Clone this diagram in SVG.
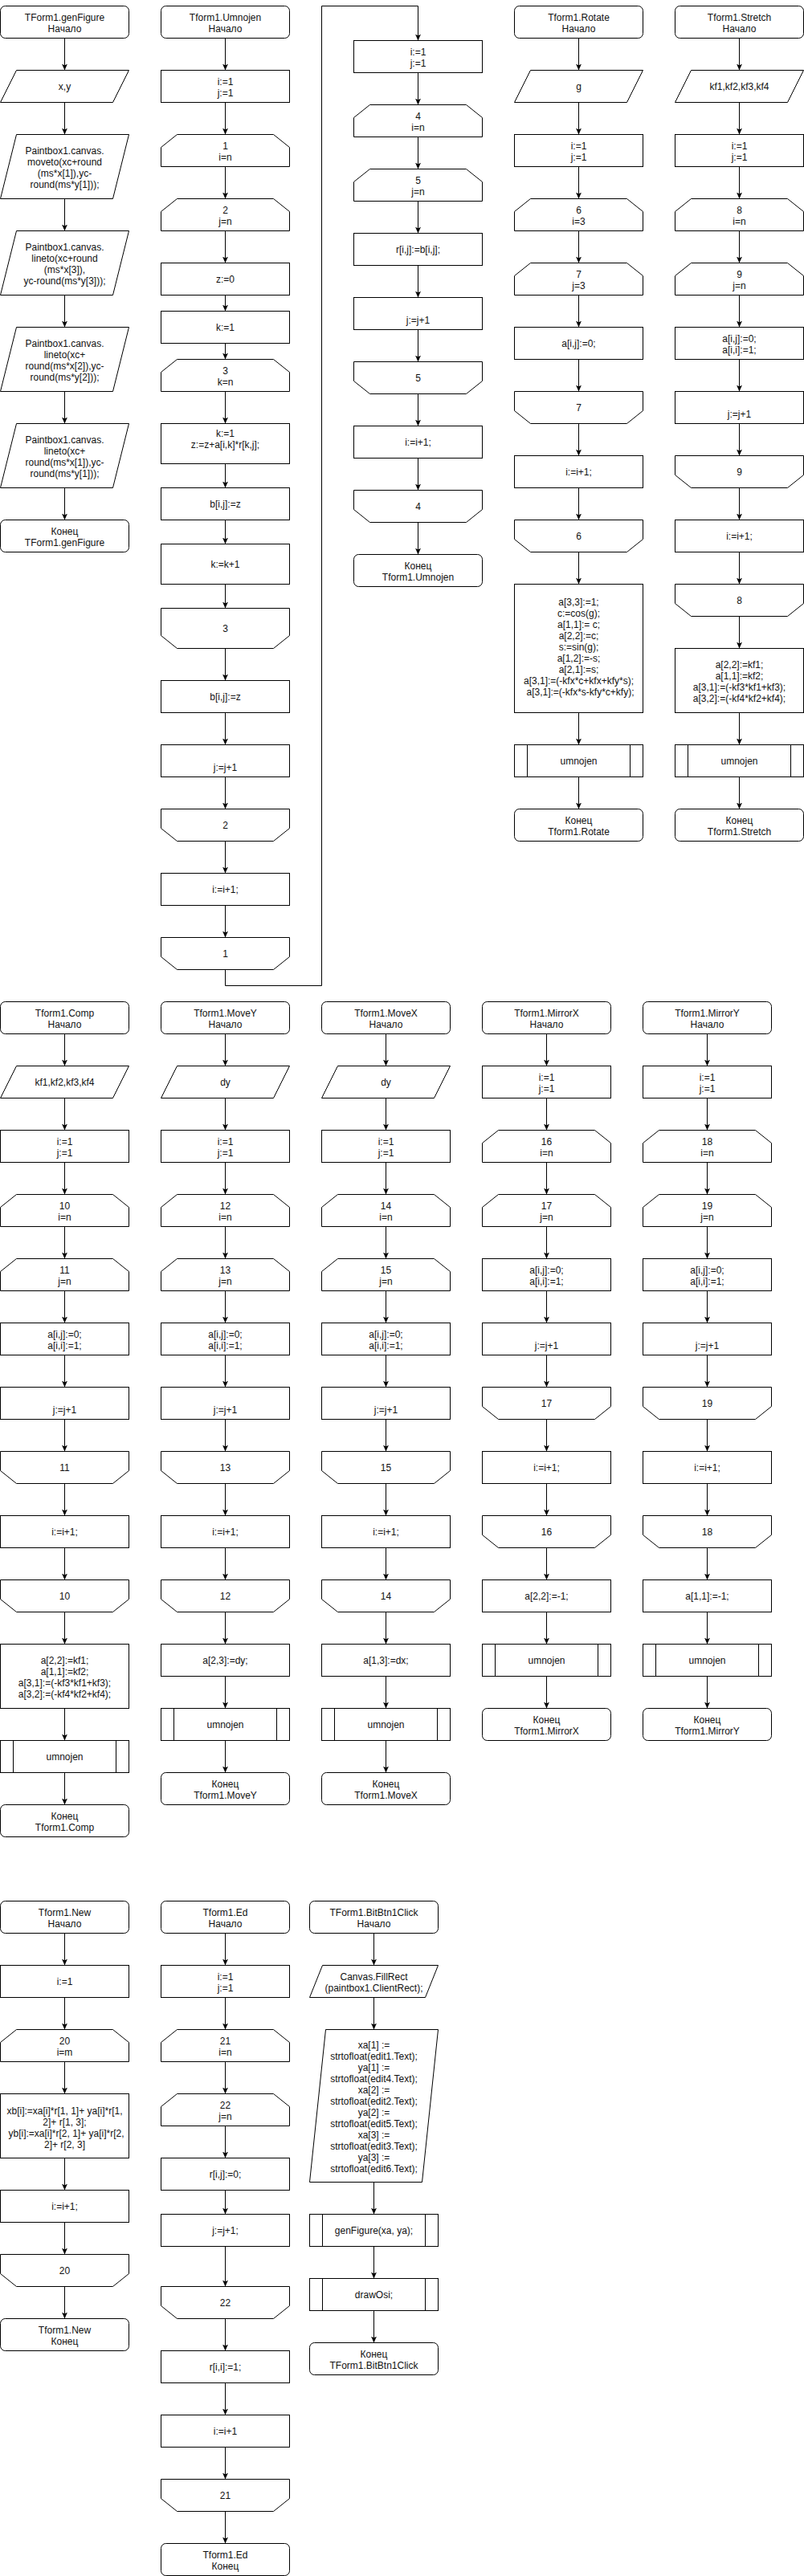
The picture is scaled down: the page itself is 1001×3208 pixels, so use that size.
<svg xmlns="http://www.w3.org/2000/svg" xmlns:xlink="http://www.w3.org/1999/xlink" width="1001" height="3208" viewBox="0 0 1001 3208">
<style>
.t{font-family:"Liberation Sans",Arial,Helvetica,sans-serif;font-size:12px;fill:#111;stroke:none;text-anchor:middle}
</style>
<defs>
<marker id="a" viewBox="0 0 8 8" refX="8" refY="4" markerWidth="8" markerHeight="8" markerUnits="userSpaceOnUse" orient="auto"><path d="M0,0.5L8,4L0,7.5L2,4Z" fill="#000" stroke="none"/></marker>
<rect id="T" width="160" height="40" rx="6"/>
<rect id="R" width="160" height="40"/>
<rect id="R50" width="160" height="50"/>
<rect id="R80" width="160" height="80"/>
<rect id="R160" width="160" height="160"/>
<path id="P" d="M20,0H160L140,40H0Z"/>
<path id="P80" d="M20,0H160L140,80H0Z"/>
<path id="LS" d="M20,0H140L160,16V40H0V16Z"/>
<path id="LE" d="M0,0H160V24L140,40H20L0,24Z"/>
<path id="LE50" d="M0,0H160V34L140,50H20L0,34Z"/>
<g id="S"><rect width="160" height="40"/><path d="M16,0V40M144,0V40"/></g>
</defs>
<rect width="1001" height="3208" fill="#fff"/>
<g transform="translate(0.5,0.5)">
<g id="connectors" fill="none" stroke="#000" stroke-width="1" marker-end="url(#a)">
<path d="M80,47V87"/><path d="M80,127V167"/><path d="M80,247V287"/><path d="M80,367V407"/><path d="M80,487V527"/><path d="M80,607V647"/>
<path d="M280,47V87"/><path d="M280,127V167"/><path d="M280,207V247"/><path d="M280,287V327"/><path d="M280,367V387"/><path d="M280,427V447"/><path d="M280,487V527"/><path d="M280,577V607"/><path d="M280,647V677"/><path d="M280,727V757"/><path d="M280,807V847"/><path d="M280,887V927"/><path d="M280,967V1007"/><path d="M280,1047V1087"/><path d="M280,1127V1167"/>
<path d="M280,1207V1227H400V7H520V50"/>
<path d="M520,90V130"/><path d="M520,170V210"/><path d="M520,250V290"/><path d="M520,330V370"/><path d="M520,410V450"/><path d="M520,490V530"/><path d="M520,570V610"/><path d="M520,650V690"/>
<path d="M720,47V87"/><path d="M720,127V167"/><path d="M720,207V247"/><path d="M720,287V327"/><path d="M720,367V407"/><path d="M720,447V487"/><path d="M720,527V567"/><path d="M720,607V647"/><path d="M720,687V727"/><path d="M720,887V927"/><path d="M720,967V1007"/>
<path d="M920,47V87"/><path d="M920,127V167"/><path d="M920,207V247"/><path d="M920,287V327"/><path d="M920,367V407"/><path d="M920,447V487"/><path d="M920,527V567"/><path d="M920,607V647"/><path d="M920,687V727"/><path d="M920,767V807"/><path d="M920,887V927"/><path d="M920,967V1007"/>
<path d="M80,1287V1327"/><path d="M80,1367V1407"/><path d="M80,1447V1487"/><path d="M80,1527V1567"/><path d="M80,1607V1647"/><path d="M80,1687V1727"/><path d="M80,1767V1807"/><path d="M80,1847V1887"/><path d="M80,1927V1967"/><path d="M80,2007V2047"/><path d="M80,2127V2167"/><path d="M80,2207V2247"/>
<path d="M280,1287V1327"/><path d="M280,1367V1407"/><path d="M280,1447V1487"/><path d="M280,1527V1567"/><path d="M280,1607V1647"/><path d="M280,1687V1727"/><path d="M280,1767V1807"/><path d="M280,1847V1887"/><path d="M280,1927V1967"/><path d="M280,2007V2047"/><path d="M280,2087V2127"/><path d="M280,2167V2207"/>
<path d="M480,1287V1327"/><path d="M480,1367V1407"/><path d="M480,1447V1487"/><path d="M480,1527V1567"/><path d="M480,1607V1647"/><path d="M480,1687V1727"/><path d="M480,1767V1807"/><path d="M480,1847V1887"/><path d="M480,1927V1967"/><path d="M480,2007V2047"/><path d="M480,2087V2127"/><path d="M480,2167V2207"/>
<path d="M680,1287V1327"/><path d="M680,1367V1407"/><path d="M680,1447V1487"/><path d="M680,1527V1567"/><path d="M680,1607V1647"/><path d="M680,1687V1727"/><path d="M680,1767V1807"/><path d="M680,1847V1887"/><path d="M680,1927V1967"/><path d="M680,2007V2047"/><path d="M680,2087V2127"/>
<path d="M880,1287V1327"/><path d="M880,1367V1407"/><path d="M880,1447V1487"/><path d="M880,1527V1567"/><path d="M880,1607V1647"/><path d="M880,1687V1727"/><path d="M880,1767V1807"/><path d="M880,1847V1887"/><path d="M880,1927V1967"/><path d="M880,2007V2047"/><path d="M880,2087V2127"/>
<path d="M80,2407V2447"/><path d="M80,2487V2527"/><path d="M80,2567V2607"/><path d="M80,2687V2727"/><path d="M80,2767V2807"/><path d="M80,2847V2887"/>
<path d="M280,2407V2447"/><path d="M280,2487V2527"/><path d="M280,2567V2607"/><path d="M280,2647V2687"/><path d="M280,2727V2757"/><path d="M280,2797V2847"/><path d="M280,2887V2927"/><path d="M280,2967V3007"/><path d="M280,3047V3087"/><path d="M280,3127V3167"/>
<path d="M465,2407V2447"/><path d="M465,2487V2527"/><path d="M465,2717V2757"/><path d="M465,2797V2837"/><path d="M465,2877V2917"/>
</g>
<g id="nodes" fill="#fff" stroke="#000" stroke-width="1">
<g id="gf1"><use href="#T" x="0" y="7"/><text class="t" x="80" y="25">TForm1.genFigure<tspan x="80" y="39">Начало</tspan></text></g>
<g id="gf2"><use href="#P" x="0" y="87"/><text class="t" x="80" y="111">x,y</text></g>
<g id="gf3"><use href="#P80" x="0" y="167"/><text class="t" x="80" y="191">Paintbox1.canvas.<tspan x="80" y="205">moveto(xc+round</tspan><tspan x="80" y="219">(ms*x[1]),yc-</tspan><tspan x="80" y="233">round(ms*y[1]));</tspan></text></g>
<g id="gf4"><use href="#P80" x="0" y="287"/><text class="t" x="80" y="311">Paintbox1.canvas.<tspan x="80" y="325">lineto(xc+round</tspan><tspan x="80" y="339">(ms*x[3]),</tspan><tspan x="80" y="353">yc-round(ms*y[3]));</tspan></text></g>
<g id="gf5"><use href="#P80" x="0" y="407"/><text class="t" x="80" y="431">Paintbox1.canvas.<tspan x="80" y="445">lineto(xc+</tspan><tspan x="80" y="459">round(ms*x[2]),yc-</tspan><tspan x="80" y="473">round(ms*y[2]));</tspan></text></g>
<g id="gf6"><use href="#P80" x="0" y="527"/><text class="t" x="80" y="551">Paintbox1.canvas.<tspan x="80" y="565">lineto(xc+</tspan><tspan x="80" y="579">round(ms*x[1]),yc-</tspan><tspan x="80" y="593">round(ms*y[1]));</tspan></text></g>
<g id="gf7"><use href="#T" x="0" y="647"/><text class="t" x="80" y="665">Конец<tspan x="80" y="679">TForm1.genFigure</tspan></text></g>
<g id="um1"><use href="#T" x="200" y="7"/><text class="t" x="280" y="25">Tform1.Umnojen<tspan x="280" y="39">Начало</tspan></text></g>
<g id="um2"><use href="#R" x="200" y="87"/><text class="t" x="280" y="105">i:=1<tspan x="280" y="119">j:=1</tspan></text></g>
<g id="um3"><use href="#LS" x="200" y="167"/><text class="t" x="280" y="185">1<tspan x="280" y="199">i=n</tspan></text></g>
<g id="um4"><use href="#LS" x="200" y="247"/><text class="t" x="280" y="265">2<tspan x="280" y="279">j=n</tspan></text></g>
<g id="um5"><use href="#R" x="200" y="327"/><text class="t" x="280" y="351">z:=0</text></g>
<g id="um6"><use href="#R" x="200" y="387"/><text class="t" x="280" y="411">k:=1</text></g>
<g id="um7"><use href="#LS" x="200" y="447"/><text class="t" x="280" y="465">3<tspan x="280" y="479">k=n</tspan></text></g>
<g id="um8"><use href="#R50" x="200" y="527"/><text class="t" x="280" y="543">k:=1<tspan x="280" y="557">z:=z+a[i,k]*r[k,j];</tspan></text></g>
<g id="um9"><use href="#R" x="200" y="607"/><text class="t" x="280" y="631">b[i,j]:=z</text></g>
<g id="um10"><use href="#R50" x="200" y="677"/><text class="t" x="280" y="706">k:=k+1</text></g>
<g id="um11"><use href="#LE50" x="200" y="757"/><text class="t" x="280" y="786">3</text></g>
<g id="um12"><use href="#R" x="200" y="847"/><text class="t" x="280" y="871">b[i,j]:=z</text></g>
<g id="um13"><use href="#R" x="200" y="927"/><text class="t" x="280" y="959">j:=j+1</text></g>
<g id="um14"><use href="#LE" x="200" y="1007"/><text class="t" x="280" y="1031">2</text></g>
<g id="um15"><use href="#R" x="200" y="1087"/><text class="t" x="280" y="1111">i:=i+1;</text></g>
<g id="um16"><use href="#LE" x="200" y="1167"/><text class="t" x="280" y="1191">1</text></g>
<g id="um17"><use href="#R" x="440" y="50"/><text class="t" x="520" y="68">i:=1<tspan x="520" y="82">j:=1</tspan></text></g>
<g id="um18"><use href="#LS" x="440" y="130"/><text class="t" x="520" y="148">4<tspan x="520" y="162">i=n</tspan></text></g>
<g id="um19"><use href="#LS" x="440" y="210"/><text class="t" x="520" y="228">5<tspan x="520" y="242">j=n</tspan></text></g>
<g id="um20"><use href="#R" x="440" y="290"/><text class="t" x="520" y="314">r[i,j]:=b[i,j];</text></g>
<g id="um21"><use href="#R" x="440" y="370"/><text class="t" x="520" y="402">j:=j+1</text></g>
<g id="um22"><use href="#LE" x="440" y="450"/><text class="t" x="520" y="474">5</text></g>
<g id="um23"><use href="#R" x="440" y="530"/><text class="t" x="520" y="554">i:=i+1;</text></g>
<g id="um24"><use href="#LE" x="440" y="610"/><text class="t" x="520" y="634">4</text></g>
<g id="um25"><use href="#T" x="440" y="690"/><text class="t" x="520" y="708">Конец<tspan x="520" y="722">Tform1.Umnojen</tspan></text></g>
<g id="ro1"><use href="#T" x="640" y="7"/><text class="t" x="720" y="25">Tform1.Rotate<tspan x="720" y="39">Начало</tspan></text></g>
<g id="ro2"><use href="#P" x="640" y="87"/><text class="t" x="720" y="111">g</text></g>
<g id="ro3"><use href="#R" x="640" y="167"/><text class="t" x="720" y="185">i:=1<tspan x="720" y="199">j:=1</tspan></text></g>
<g id="ro4"><use href="#LS" x="640" y="247"/><text class="t" x="720" y="265">6<tspan x="720" y="279">i=3</tspan></text></g>
<g id="ro5"><use href="#LS" x="640" y="327"/><text class="t" x="720" y="345">7<tspan x="720" y="359">j=3</tspan></text></g>
<g id="ro6"><use href="#R" x="640" y="407"/><text class="t" x="720" y="431">a[i,j]:=0;</text></g>
<g id="ro7"><use href="#LE" x="640" y="487"/><text class="t" x="720" y="511">7</text></g>
<g id="ro8"><use href="#R" x="640" y="567"/><text class="t" x="720" y="591">i:=i+1;</text></g>
<g id="ro9"><use href="#LE" x="640" y="647"/><text class="t" x="720" y="671">6</text></g>
<g id="ro10"><use href="#R160" x="640" y="727"/><text class="t" x="720" y="753">a[3,3]:=1;<tspan x="720" y="767">c:=cos(g);</tspan><tspan x="720" y="781">a[1,1]:= c;</tspan><tspan x="720" y="795">a[2,2]:=c;</tspan><tspan x="720" y="809">s:=sin(g);</tspan><tspan x="720" y="823">a[1,2]:=-s;</tspan><tspan x="720" y="837">a[2,1]:=s;</tspan><tspan x="720" y="851">a[3,1]:=(-kfx*c+kfx+kfy*s);</tspan><tspan x="722" y="865">a[3,1]:=(-kfx*s-kfy*c+kfy);</tspan></text></g>
<g id="ro11"><use href="#S" x="640" y="927"/><text class="t" x="720" y="951">umnojen</text></g>
<g id="ro12"><use href="#T" x="640" y="1007"/><text class="t" x="720" y="1025">Конец<tspan x="720" y="1039">Tform1.Rotate</tspan></text></g>
<g id="st1"><use href="#T" x="840" y="7"/><text class="t" x="920" y="25">Tform1.Stretch<tspan x="920" y="39">Начало</tspan></text></g>
<g id="st2"><use href="#P" x="840" y="87"/><text class="t" x="920" y="111">kf1,kf2,kf3,kf4</text></g>
<g id="st3"><use href="#R" x="840" y="167"/><text class="t" x="920" y="185">i:=1<tspan x="920" y="199">j:=1</tspan></text></g>
<g id="st4"><use href="#LS" x="840" y="247"/><text class="t" x="920" y="265">8<tspan x="920" y="279">i=n</tspan></text></g>
<g id="st5"><use href="#LS" x="840" y="327"/><text class="t" x="920" y="345">9<tspan x="920" y="359">j=n</tspan></text></g>
<g id="st6"><use href="#R" x="840" y="407"/><text class="t" x="920" y="425">a[i,j]:=0;<tspan x="920" y="439">a[i,i]:=1;</tspan></text></g>
<g id="st7"><use href="#R" x="840" y="487"/><text class="t" x="920" y="519">j:=j+1</text></g>
<g id="st8"><use href="#LE" x="840" y="567"/><text class="t" x="920" y="591">9</text></g>
<g id="st9"><use href="#R" x="840" y="647"/><text class="t" x="920" y="671">i:=i+1;</text></g>
<g id="st10"><use href="#LE" x="840" y="727"/><text class="t" x="920" y="751">8</text></g>
<g id="st11"><use href="#R80" x="840" y="807"/><text class="t" x="920" y="831">a[2,2]:=kf1;<tspan x="920" y="845">a[1,1]:=kf2;</tspan><tspan x="920" y="859">a[3,1]:=(-kf3*kf1+kf3);</tspan><tspan x="920" y="873">a[3,2]:=(-kf4*kf2+kf4);</tspan></text></g>
<g id="st12"><use href="#S" x="840" y="927"/><text class="t" x="920" y="951">umnojen</text></g>
<g id="st13"><use href="#T" x="840" y="1007"/><text class="t" x="920" y="1025">Конец<tspan x="920" y="1039">Tform1.Stretch</tspan></text></g>
<g id="co1"><use href="#T" x="0" y="1247"/><text class="t" x="80" y="1265">Tform1.Comp<tspan x="80" y="1279">Начало</tspan></text></g>
<g id="co2"><use href="#P" x="0" y="1327"/><text class="t" x="80" y="1351">kf1,kf2,kf3,kf4</text></g>
<g id="co3"><use href="#R" x="0" y="1407"/><text class="t" x="80" y="1425">i:=1<tspan x="80" y="1439">j:=1</tspan></text></g>
<g id="co4"><use href="#LS" x="0" y="1487"/><text class="t" x="80" y="1505">10<tspan x="80" y="1519">i=n</tspan></text></g>
<g id="co5"><use href="#LS" x="0" y="1567"/><text class="t" x="80" y="1585">11<tspan x="80" y="1599">j=n</tspan></text></g>
<g id="co6"><use href="#R" x="0" y="1647"/><text class="t" x="80" y="1665">a[i,j]:=0;<tspan x="80" y="1679">a[i,i]:=1;</tspan></text></g>
<g id="co7"><use href="#R" x="0" y="1727"/><text class="t" x="80" y="1759">j:=j+1</text></g>
<g id="co8"><use href="#LE" x="0" y="1807"/><text class="t" x="80" y="1831">11</text></g>
<g id="co9"><use href="#R" x="0" y="1887"/><text class="t" x="80" y="1911">i:=i+1;</text></g>
<g id="co10"><use href="#LE" x="0" y="1967"/><text class="t" x="80" y="1991">10</text></g>
<g id="co11"><use href="#R80" x="0" y="2047"/><text class="t" x="80" y="2071">a[2,2]:=kf1;<tspan x="80" y="2085">a[1,1]:=kf2;</tspan><tspan x="80" y="2099">a[3,1]:=(-kf3*kf1+kf3);</tspan><tspan x="80" y="2113">a[3,2]:=(-kf4*kf2+kf4);</tspan></text></g>
<g id="co12"><use href="#S" x="0" y="2167"/><text class="t" x="80" y="2191">umnojen</text></g>
<g id="co13"><use href="#T" x="0" y="2247"/><text class="t" x="80" y="2265">Конец<tspan x="80" y="2279">Tform1.Comp</tspan></text></g>
<g id="my1"><use href="#T" x="200" y="1247"/><text class="t" x="280" y="1265">Tform1.MoveY<tspan x="280" y="1279">Начало</tspan></text></g>
<g id="my2"><use href="#P" x="200" y="1327"/><text class="t" x="280" y="1351">dy</text></g>
<g id="my3"><use href="#R" x="200" y="1407"/><text class="t" x="280" y="1425">i:=1<tspan x="280" y="1439">j:=1</tspan></text></g>
<g id="my4"><use href="#LS" x="200" y="1487"/><text class="t" x="280" y="1505">12<tspan x="280" y="1519">i=n</tspan></text></g>
<g id="my5"><use href="#LS" x="200" y="1567"/><text class="t" x="280" y="1585">13<tspan x="280" y="1599">j=n</tspan></text></g>
<g id="my6"><use href="#R" x="200" y="1647"/><text class="t" x="280" y="1665">a[i,j]:=0;<tspan x="280" y="1679">a[i,i]:=1;</tspan></text></g>
<g id="my7"><use href="#R" x="200" y="1727"/><text class="t" x="280" y="1759">j:=j+1</text></g>
<g id="my8"><use href="#LE" x="200" y="1807"/><text class="t" x="280" y="1831">13</text></g>
<g id="my9"><use href="#R" x="200" y="1887"/><text class="t" x="280" y="1911">i:=i+1;</text></g>
<g id="my10"><use href="#LE" x="200" y="1967"/><text class="t" x="280" y="1991">12</text></g>
<g id="my11"><use href="#R" x="200" y="2047"/><text class="t" x="280" y="2071">a[2,3]:=dy;</text></g>
<g id="my12"><use href="#S" x="200" y="2127"/><text class="t" x="280" y="2151">umnojen</text></g>
<g id="my13"><use href="#T" x="200" y="2207"/><text class="t" x="280" y="2225">Конец<tspan x="280" y="2239">Tform1.MoveY</tspan></text></g>
<g id="mx1"><use href="#T" x="400" y="1247"/><text class="t" x="480" y="1265">Tform1.MoveX<tspan x="480" y="1279">Начало</tspan></text></g>
<g id="mx2"><use href="#P" x="400" y="1327"/><text class="t" x="480" y="1351">dy</text></g>
<g id="mx3"><use href="#R" x="400" y="1407"/><text class="t" x="480" y="1425">i:=1<tspan x="480" y="1439">j:=1</tspan></text></g>
<g id="mx4"><use href="#LS" x="400" y="1487"/><text class="t" x="480" y="1505">14<tspan x="480" y="1519">i=n</tspan></text></g>
<g id="mx5"><use href="#LS" x="400" y="1567"/><text class="t" x="480" y="1585">15<tspan x="480" y="1599">j=n</tspan></text></g>
<g id="mx6"><use href="#R" x="400" y="1647"/><text class="t" x="480" y="1665">a[i,j]:=0;<tspan x="480" y="1679">a[i,i]:=1;</tspan></text></g>
<g id="mx7"><use href="#R" x="400" y="1727"/><text class="t" x="480" y="1759">j:=j+1</text></g>
<g id="mx8"><use href="#LE" x="400" y="1807"/><text class="t" x="480" y="1831">15</text></g>
<g id="mx9"><use href="#R" x="400" y="1887"/><text class="t" x="480" y="1911">i:=i+1;</text></g>
<g id="mx10"><use href="#LE" x="400" y="1967"/><text class="t" x="480" y="1991">14</text></g>
<g id="mx11"><use href="#R" x="400" y="2047"/><text class="t" x="480" y="2071">a[1,3]:=dx;</text></g>
<g id="mx12"><use href="#S" x="400" y="2127"/><text class="t" x="480" y="2151">umnojen</text></g>
<g id="mx13"><use href="#T" x="400" y="2207"/><text class="t" x="480" y="2225">Конец<tspan x="480" y="2239">Tform1.MoveX</tspan></text></g>
<g id="mrx1"><use href="#T" x="600" y="1247"/><text class="t" x="680" y="1265">Tform1.MirrorX<tspan x="680" y="1279">Начало</tspan></text></g>
<g id="mrx2"><use href="#R" x="600" y="1327"/><text class="t" x="680" y="1345">i:=1<tspan x="680" y="1359">j:=1</tspan></text></g>
<g id="mrx3"><use href="#LS" x="600" y="1407"/><text class="t" x="680" y="1425">16<tspan x="680" y="1439">i=n</tspan></text></g>
<g id="mrx4"><use href="#LS" x="600" y="1487"/><text class="t" x="680" y="1505">17<tspan x="680" y="1519">j=n</tspan></text></g>
<g id="mrx5"><use href="#R" x="600" y="1567"/><text class="t" x="680" y="1585">a[i,j]:=0;<tspan x="680" y="1599">a[i,i]:=1;</tspan></text></g>
<g id="mrx6"><use href="#R" x="600" y="1647"/><text class="t" x="680" y="1679">j:=j+1</text></g>
<g id="mrx7"><use href="#LE" x="600" y="1727"/><text class="t" x="680" y="1751">17</text></g>
<g id="mrx8"><use href="#R" x="600" y="1807"/><text class="t" x="680" y="1831">i:=i+1;</text></g>
<g id="mrx9"><use href="#LE" x="600" y="1887"/><text class="t" x="680" y="1911">16</text></g>
<g id="mrx10"><use href="#R" x="600" y="1967"/><text class="t" x="680" y="1991">a[2,2]:=-1;</text></g>
<g id="mrx11"><use href="#S" x="600" y="2047"/><text class="t" x="680" y="2071">umnojen</text></g>
<g id="mrx12"><use href="#T" x="600" y="2127"/><text class="t" x="680" y="2145">Конец<tspan x="680" y="2159">Tform1.MirrorX</tspan></text></g>
<g id="mry1"><use href="#T" x="800" y="1247"/><text class="t" x="880" y="1265">Tform1.MirrorY<tspan x="880" y="1279">Начало</tspan></text></g>
<g id="mry2"><use href="#R" x="800" y="1327"/><text class="t" x="880" y="1345">i:=1<tspan x="880" y="1359">j:=1</tspan></text></g>
<g id="mry3"><use href="#LS" x="800" y="1407"/><text class="t" x="880" y="1425">18<tspan x="880" y="1439">i=n</tspan></text></g>
<g id="mry4"><use href="#LS" x="800" y="1487"/><text class="t" x="880" y="1505">19<tspan x="880" y="1519">j=n</tspan></text></g>
<g id="mry5"><use href="#R" x="800" y="1567"/><text class="t" x="880" y="1585">a[i,j]:=0;<tspan x="880" y="1599">a[i,i]:=1;</tspan></text></g>
<g id="mry6"><use href="#R" x="800" y="1647"/><text class="t" x="880" y="1679">j:=j+1</text></g>
<g id="mry7"><use href="#LE" x="800" y="1727"/><text class="t" x="880" y="1751">19</text></g>
<g id="mry8"><use href="#R" x="800" y="1807"/><text class="t" x="880" y="1831">i:=i+1;</text></g>
<g id="mry9"><use href="#LE" x="800" y="1887"/><text class="t" x="880" y="1911">18</text></g>
<g id="mry10"><use href="#R" x="800" y="1967"/><text class="t" x="880" y="1991">a[1,1]:=-1;</text></g>
<g id="mry11"><use href="#S" x="800" y="2047"/><text class="t" x="880" y="2071">umnojen</text></g>
<g id="mry12"><use href="#T" x="800" y="2127"/><text class="t" x="880" y="2145">Конец<tspan x="880" y="2159">Tform1.MirrorY</tspan></text></g>
<g id="nw1"><use href="#T" x="0" y="2367"/><text class="t" x="80" y="2385">Tform1.New<tspan x="80" y="2399">Начало</tspan></text></g>
<g id="nw2"><use href="#R" x="0" y="2447"/><text class="t" x="80" y="2471">i:=1</text></g>
<g id="nw3"><use href="#LS" x="0" y="2527"/><text class="t" x="80" y="2545">20<tspan x="80" y="2559">i=m</tspan></text></g>
<g id="nw4"><use href="#R80" x="0" y="2607"/><text class="t" x="80" y="2632">xb[i]:=xa[i]*r[1, 1]+ ya[i]*r[1,<tspan x="80" y="2646">2]+ r[1, 3];</tspan><tspan x="82" y="2660">yb[i]:=xa[i]*r[2, 1]+ ya[i]*r[2,</tspan><tspan x="80" y="2674">2]+ r[2, 3]</tspan></text></g>
<g id="nw5"><use href="#R" x="0" y="2727"/><text class="t" x="80" y="2751">i:=i+1;</text></g>
<g id="nw6"><use href="#LE" x="0" y="2807"/><text class="t" x="80" y="2831">20</text></g>
<g id="nw7"><use href="#T" x="0" y="2887"/><text class="t" x="80" y="2905">Tform1.New<tspan x="80" y="2919">Конец</tspan></text></g>
<g id="ed1"><use href="#T" x="200" y="2367"/><text class="t" x="280" y="2385">Tform1.Ed<tspan x="280" y="2399">Начало</tspan></text></g>
<g id="ed2"><use href="#R" x="200" y="2447"/><text class="t" x="280" y="2465">i:=1<tspan x="280" y="2479">j:=1</tspan></text></g>
<g id="ed3"><use href="#LS" x="200" y="2527"/><text class="t" x="280" y="2545">21<tspan x="280" y="2559">i=n</tspan></text></g>
<g id="ed4"><use href="#LS" x="200" y="2607"/><text class="t" x="280" y="2625">22<tspan x="280" y="2639">j=n</tspan></text></g>
<g id="ed5"><use href="#R" x="200" y="2687"/><text class="t" x="280" y="2711">r[i,j]:=0;</text></g>
<g id="ed6"><use href="#R" x="200" y="2757"/><text class="t" x="280" y="2781">j:=j+1;</text></g>
<g id="ed7"><use href="#LE" x="200" y="2847"/><text class="t" x="280" y="2871">22</text></g>
<g id="ed8"><use href="#R" x="200" y="2927"/><text class="t" x="280" y="2951">r[i,i]:=1;</text></g>
<g id="ed9"><use href="#R" x="200" y="3007"/><text class="t" x="280" y="3031">i:=i+1</text></g>
<g id="ed10"><use href="#LE" x="200" y="3087"/><text class="t" x="280" y="3111">21</text></g>
<g id="ed11"><use href="#T" x="200" y="3167"/><text class="t" x="280" y="3185">Tform1.Ed<tspan x="280" y="3199">Конец</tspan></text></g>
<g id="bb1"><use href="#T" x="385" y="2367"/><text class="t" x="465" y="2385">TForm1.BitBtn1Click<tspan x="465" y="2399">Начало</tspan></text></g>
<g id="bb2"><path d="M401,2447H545L529,2487H385Z"/><text class="t" x="465" y="2465">Canvas.FillRect<tspan x="465" y="2479">(paintbox1.ClientRect);</tspan></text></g>
<g id="bb3"><path d="M405,2527H545L525,2717H385Z"/><text class="t" x="465" y="2550">xa[1] :=<tspan x="465" y="2564">strtofloat(edit1.Text);</tspan><tspan x="465" y="2578">ya[1] :=</tspan><tspan x="465" y="2592">strtofloat(edit4.Text);</tspan><tspan x="465" y="2606">xa[2] :=</tspan><tspan x="465" y="2620">strtofloat(edit2.Text);</tspan><tspan x="465" y="2634">ya[2] :=</tspan><tspan x="465" y="2648">strtofloat(edit5.Text);</tspan><tspan x="465" y="2662">xa[3] :=</tspan><tspan x="465" y="2676">strtofloat(edit3.Text);</tspan><tspan x="465" y="2690">ya[3] :=</tspan><tspan x="465" y="2704">strtofloat(edit6.Text);</tspan></text></g>
<g id="bb4"><use href="#S" x="385" y="2757"/><text class="t" x="465" y="2781">genFigure(xa, ya);</text></g>
<g id="bb5"><use href="#S" x="385" y="2837"/><text class="t" x="465" y="2861">drawOsi;</text></g>
<g id="bb6"><use href="#T" x="385" y="2917"/><text class="t" x="465" y="2935">Конец<tspan x="465" y="2949">TForm1.BitBtn1Click</tspan></text></g>
</g>
</g>
</svg>
